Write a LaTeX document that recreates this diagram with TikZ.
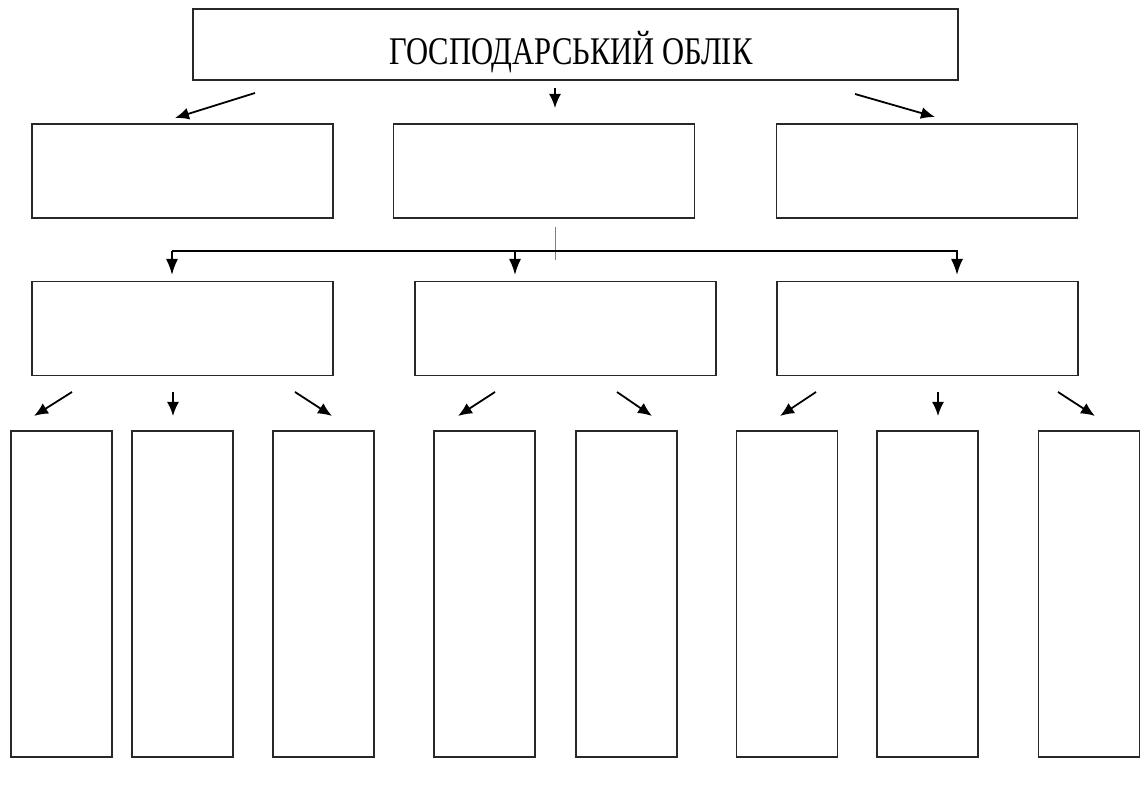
\documentclass[tikz,border=0pt]{standalone}
\usepackage{fontspec}
\setmainfont{Liberation Serif}
\usepackage{graphicx}
\usepackage{tikz}
\usetikzlibrary{arrows.meta, positioning, calc}
\definecolor{boxline}{RGB}{40, 40, 40}

\tikzset{
  box/.style={draw=boxline, line width=0.9pt, inner sep=0pt, minimum width=150.5pt, minimum height=47pt},
  tallbox/.style={draw=boxline, line width=0.9pt, inner sep=0pt, minimum width=50.5pt, minimum height=163pt},
  arr/.style={line width=0.9pt, -{Latex[length=7pt, width=6pt]}},
  bigarr/.style={line width=0.9pt, -{Latex[length=8pt, width=6pt]}}
}

\begin{document}
\begin{tikzpicture}[x=0.5pt, y=-0.5pt]
  \useasboundingbox (0,0) rectangle (1147,785);

  % Title
  \node[draw=boxline, line width=0.9pt, minimum width=382.5pt, minimum height=35.5pt] (oblik) at (575.5,44.5) {};
  \node[anchor=base, inner sep=0pt] (title) at (571,65)
    {\fontsize{19.6pt}{20pt}\selectfont\scalebox{0.78}[1]{ГОСПОДАРСЬКИЙ ОБЛІК}};

  % Second row
  \node[box] (vidl) at (182.5,171) {};
  \node[box] (vidm) at (544,171) {};
  \node[box] (vidr) at (927,171) {};

  % Third row
  \node[box] (grpl) at (182.5,328.5) {};
  \node[box] (grpm) at (565.5,328.5) {};
  \node[box] (grpr) at (927.5,328.5) {};

  % Bottom row
  \foreach \x [count=\i] in {61.5,182.5,323.5,484.5,626.5,787,927.5,1089} {
    \node[tallbox] (el\i) at (\x,594) {};
  }

  % Arrows from the title
  \foreach \a/\b/\c/\d/\n in {255/93/175/118/1, 555/88/555/108/2, 855/94/935/117/3} {
    \coordinate (ts\n) at (\a,\b);
    \coordinate (te\n) at (\c,\d);
    \draw[arr] (ts\n) -- (te\n);
  }

  % Connector to the third row
  \coordinate (cup) at (555,227);
  \coordinate (cdown) at (555,260);
  \draw[gray, line width=0.4pt] (cup) -- (cdown);
  \coordinate (hl) at (172,251);
  \coordinate (hr) at (958,251);
  \draw[line width=0.9pt] (hl) -- (hr);
  \foreach \x [count=\i] in {172,515,957} {
    \coordinate (hs\i) at (\x,251);
    \coordinate (he\i) at (\x,275);
    \draw[bigarr] (hs\i) -- (he\i);
  }

  % Arrows to the bottom row
  \foreach \a/\c [count=\n] in {72/34, 173/173, 295/332, 495/458, 617/652, 816/780, 938/938, 1058/1095} {
    \coordinate (bs\n) at (\a,392);
    \coordinate (be\n) at (\c,416);
    \draw[arr] (bs\n) -- (be\n);
  }
\end{tikzpicture}
\end{document}
